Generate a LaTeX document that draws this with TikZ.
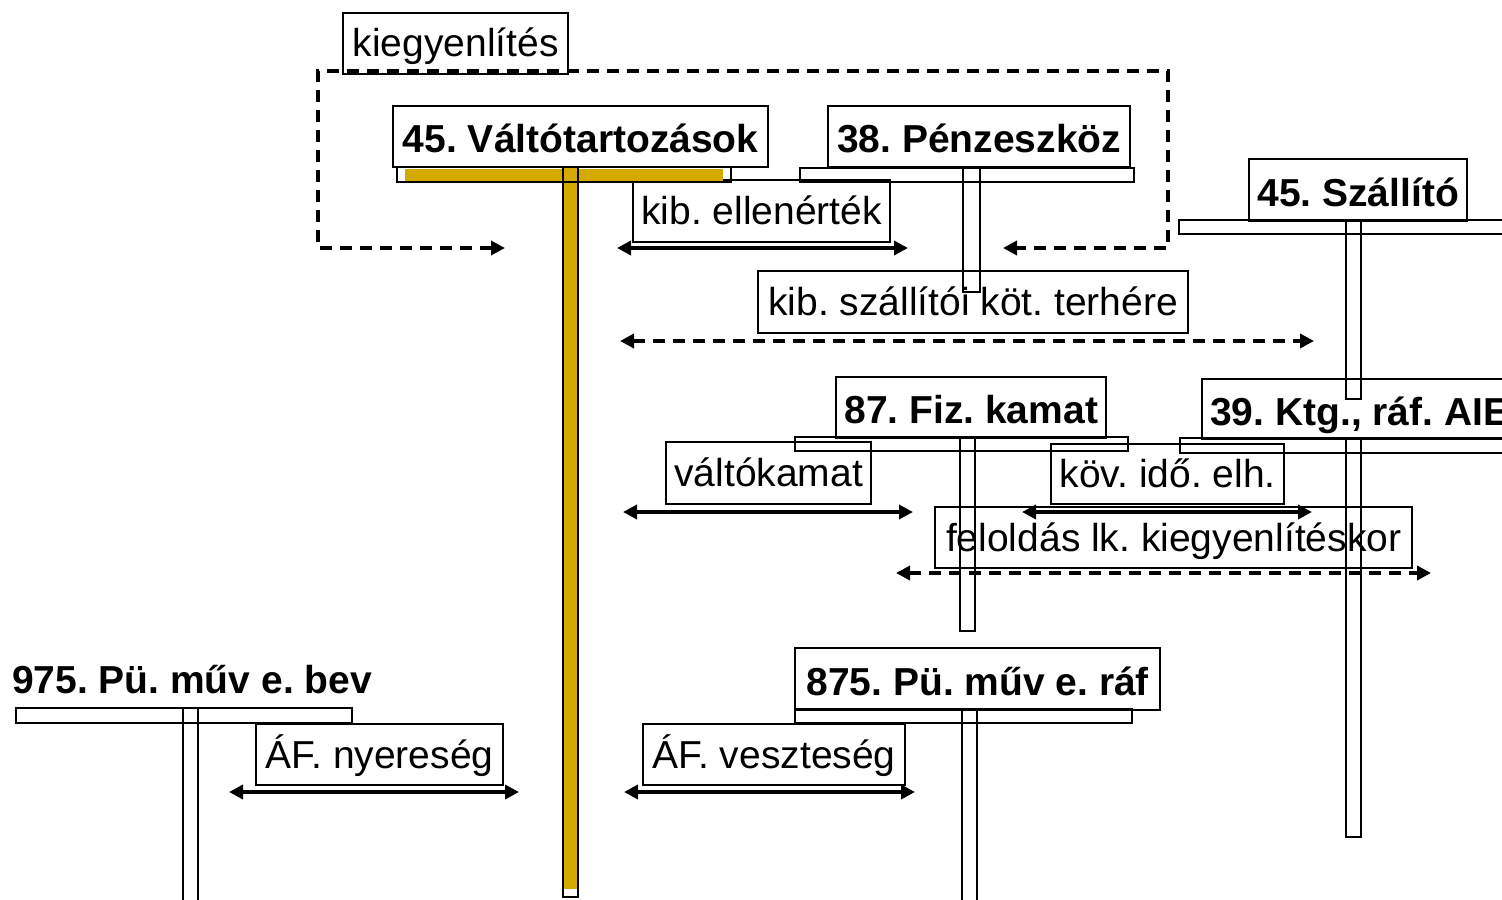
\documentclass[tikz,border=0pt]{standalone}
\usepackage{fontspec}
\setmainfont{Liberation Sans}
\usetikzlibrary{arrows.meta}
\definecolor{gold}{RGB}{212,170,0}
\frenchspacing
\begin{document}
\begin{tikzpicture}[x=0.5pt,y=-0.5pt,
  lbl/.style={draw, line width=1.2pt, fill=white, inner sep=0pt, anchor=north west,
    font=\fontsize{19.5pt}{22pt}\selectfont, text height=16.6pt, text depth=3.3pt},
  hdr/.style={lbl, font=\fontsize{19.5pt}{22pt}\selectfont\bfseries, text height=18.5pt, text depth=2.5pt},
  tbar/.style={draw, line width=0.9pt},
  tip/.tip={Triangle[length=7pt,width=7pt]},
  dbl/.style={line width=2pt, tip-tip},
  ddbl/.style={dbl, dash pattern=on 6pt off 4pt},
]
\path[use as bounding box] (0,0) rectangle (1502,899);
\clip (0,0) rectangle (1502,899);

% ---- label boxes
\node[lbl, minimum width=112.5pt, minimum height=30.5pt] (kieg) at (342,12) {kiegyenlítés};
\node[lbl, minimum width=128.5pt, minimum height=31pt] (kibell) at (632,179) {kib. ellenérték};
\node[lbl, minimum width=215pt, minimum height=31pt] (kibszall) at (757,270) {kib. szállítói köt. terhére};
\node[lbl, minimum width=102.5pt, minimum height=31pt] (valtok) at (665,441) {váltókamat};
\node[lbl, minimum width=116.5pt, minimum height=30pt] (kov) at (1050,443) {köv. idő. elh.};
\node[lbl, minimum width=238.5pt, minimum height=30.5pt] (felold) at (934,506) {feloldás lk. kiegyenlítéskor};
\node[lbl, minimum width=123.5pt, minimum height=30.5pt] (nyer) at (255,723) {ÁF. nyereség};
\node[lbl, minimum width=131pt, minimum height=30.5pt] (veszt) at (642,723) {ÁF. veszteség};

% ---- account headers
\node[hdr, minimum width=187.5pt, minimum height=30.5pt] (valto) at (392,105) {45. Váltótartozások};
\node[hdr, minimum width=151pt, minimum height=30.5pt] (penz) at (827,105) {38. Pénzeszköz};
\node[hdr, minimum width=109pt, minimum height=31pt] (szall) at (1248,158) {45. Szállító};
\node[hdr, minimum width=135pt, minimum height=30.5pt] (fiz) at (835,376) {87. Fiz. kamat};
\node[hdr, minimum height=30pt, inner xsep=4pt] (ktg) at (1201,378) {39. Ktg., ráf. AIE};
\node[hdr, minimum width=182.5pt, minimum height=31pt] (raf) at (794,647) {875. Pü. műv e. ráf};
\node[font=\fontsize{19.5pt}{22pt}\selectfont\bfseries, inner sep=0pt, anchor=base] (bev) at (192,693) {975. Pü. műv e. bev};

% ---- T-account bars and stems
\fill[gold] (405,169) rectangle (723,181);
\fill[gold] (564,168) rectangle (577,889);
\draw[tbar] (397,167) rectangle (731,182);
\draw[tbar] (563,167) rectangle (578,897);

\draw[tbar] (800,168) rectangle (1134,182);
\draw[tbar] (963,168) rectangle (980,292);

\draw[tbar] (1179,220) rectangle (1520,234);
\draw[tbar] (1346,220) rectangle (1361,399);

\draw[tbar] (795,437) rectangle (1128,451);
\draw[tbar] (960,437) rectangle (975,631);

\draw[tbar] (1180,438) rectangle (1520,453);
\draw[tbar] (1346,438) rectangle (1361,837);

\draw[tbar] (795,709) rectangle (1132,723);
\draw[tbar] (962,709) rectangle (977,910);

\draw[tbar] (16,708) rectangle (352,723);
\draw[tbar] (183,708) rectangle (198,910);

% ---- arrow end points
\coordinate (kA) at (505,248);
\coordinate (kB) at (1003,248);
\coordinate (eA) at (617,248);
\coordinate (eB) at (908,248);
\coordinate (sA) at (620,341);
\coordinate (sB) at (1314,341);
\coordinate (vA) at (623,512);
\coordinate (vB) at (913,512);
\coordinate (oA) at (1022,512);
\coordinate (oB) at (1312,512);
\coordinate (fA) at (896,573);
\coordinate (fB) at (1431,573);
\coordinate (nA) at (229,792);
\coordinate (nB) at (519,792);
\coordinate (zA) at (624,792);
\coordinate (zB) at (915,792);

% ---- arrows
\draw[ddbl, line join=miter] (kA) -- (318,248) -- (318,71) -- (1168,71) -- (1168,248) -- (kB);
\draw[dbl] (eA) -- (eB);
\draw[ddbl] (sA) -- (sB);
\draw[dbl] (vA) -- (vB);
\draw[dbl] (oA) -- (oB);
\draw[ddbl] (fA) -- (fB);
\draw[dbl] (nA) -- (nB);
\draw[dbl] (zA) -- (zB);
\end{tikzpicture}
\end{document}
